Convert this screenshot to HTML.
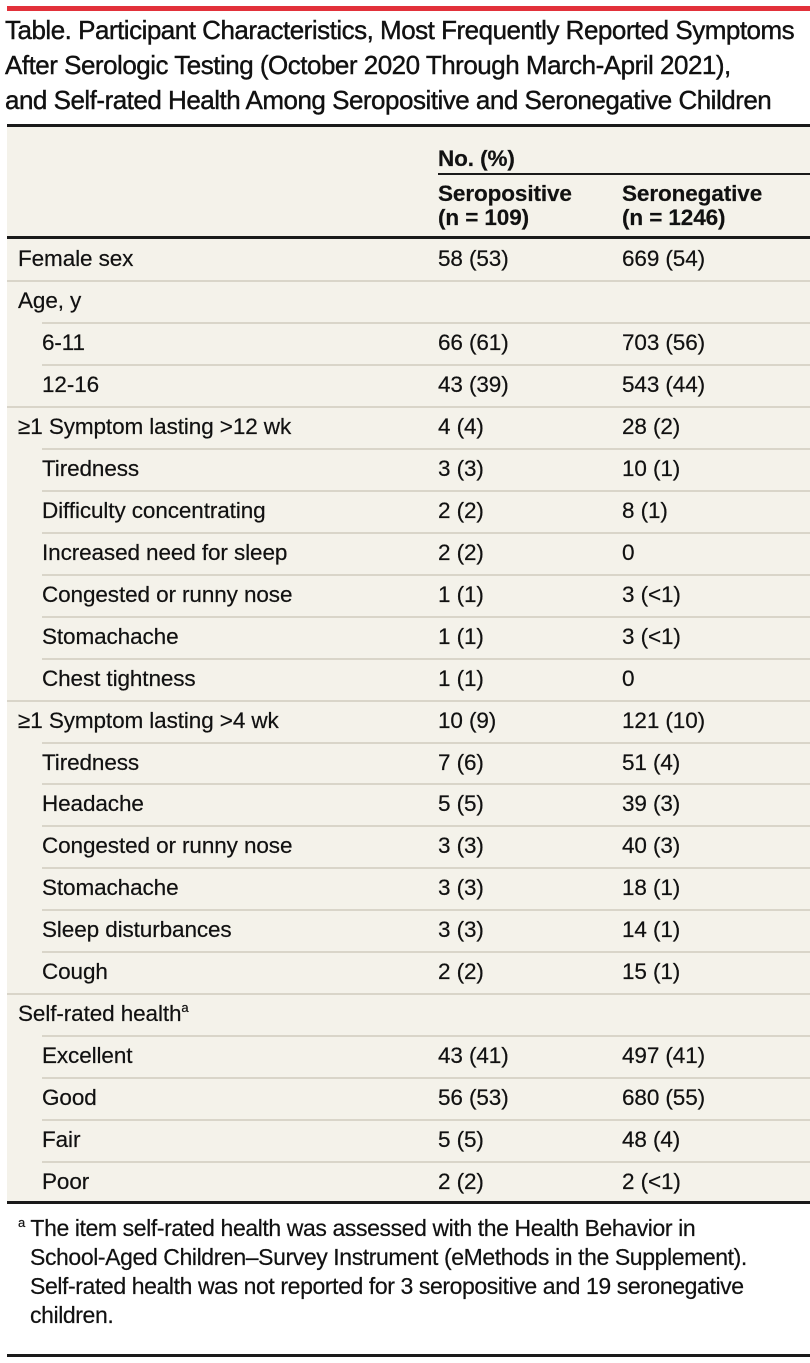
<!DOCTYPE html>
<html><head><meta charset="utf-8"><style>
body{margin:0;width:810px;height:1363px;background:#fff;font-family:"Liberation Sans",sans-serif;color:#111;position:relative;overflow:hidden}
.a{position:absolute;white-space:nowrap}
.t{font-size:26px;left:5px;letter-spacing:-0.5px;-webkit-text-stroke:0.4px #111}
.tb{position:absolute;left:7px;right:0;top:126px;height:1077px;background:#f4f2ea}
.r{position:absolute;font-size:22.5px;letter-spacing:-0.1px;line-height:22px;white-space:nowrap;-webkit-text-stroke:0.2px #111}
.l{position:absolute;height:2px;background:#d9d5c9;right:0}
.fn{font-size:23px;left:18px;letter-spacing:-0.4px;-webkit-text-stroke:0.2px #111}
.s{font-size:13px;position:relative;top:-9px}
</style></head><body>
<div class="a" style="left:7px;right:0;top:6px;height:5px;background:#e2313a"></div>
<div class="a t" style="top:15px">Table. Participant Characteristics, Most Frequently Reported Symptoms</div>
<div class="a t" style="top:50px">After Serologic Testing (October 2020 Through March-April 2021),</div>
<div class="a t" style="top:85px">and Self-rated Health Among Seropositive and Seronegative Children</div>
<div class="tb"></div>
<div class="a" style="left:7px;right:0;top:124px;height:3px;background:#1a1a1a"></div>
<div class="r" style="left:438px;top:148px;font-weight:bold">No. (%)</div>
<div class="a" style="left:438px;right:0;top:173px;height:2px;background:#1a1a1a"></div>
<div class="r" style="left:438px;top:183px;font-weight:bold">Seropositive</div>
<div class="r" style="left:438px;top:207px;font-weight:bold">(n = 109)</div>
<div class="r" style="left:622px;top:183px;font-weight:bold">Seronegative</div>
<div class="r" style="left:622px;top:207px;font-weight:bold">(n = 1246)</div>
<div class="a" style="left:7px;right:0;top:236px;height:3px;background:#1a1a1a"></div>
<div id="rows"></div>
<div class="a" style="left:7px;right:0;top:1201px;height:3px;background:#1a1a1a"></div>
<div class="a fn" style="top:1215px"><span class="s">a</span> The item self-rated health was assessed with the Health Behavior in</div>
<div class="a fn" style="top:1244px;left:30px">School-Aged Children–Survey Instrument (eMethods in the Supplement).</div>
<div class="a fn" style="top:1273px;left:30px">Self-rated health was not reported for 3 seropositive and 19 seronegative</div>
<div class="a fn" style="top:1302px;left:30px">children.</div>
<div class="a" style="left:7px;right:0;top:1354px;height:3px;background:#1a1a1a"></div>
<script>
var d=[["Female sex","58 (53)","669 (54)",0],["Age, y","","",0],["6-11","66 (61)","703 (56)",1],["12-16","43 (39)","543 (44)",1],
["≥1 Symptom lasting >12 wk","4 (4)","28 (2)",0],["Tiredness","3 (3)","10 (1)",1],["Difficulty concentrating","2 (2)","8 (1)",1],
["Increased need for sleep","2 (2)","0",1],["Congested or runny nose","1 (1)","3 (<1)",1],["Stomachache","1 (1)","3 (<1)",1],["Chest tightness","1 (1)","0",1],
["≥1 Symptom lasting >4 wk","10 (9)","121 (10)",0],["Tiredness","7 (6)","51 (4)",1],["Headache","5 (5)","39 (3)",1],["Congested or runny nose","3 (3)","40 (3)",1],
["Stomachache","3 (3)","18 (1)",1],["Sleep disturbances","3 (3)","14 (1)",1],["Cough","2 (2)","15 (1)",1],
["Self-rated health<span class='s'>a</span>","","",0],["Excellent","43 (41)","497 (41)",1],["Good","56 (53)","680 (55)",1],["Fair","5 (5)","48 (4)",1],["Poor","2 (2)","2 (<1)",1]];
var h="",H=41.96;
for(var i=0;i<d.length;i++){var y=239+i*H,c=y+H/2-12;
if(i>0)h+='<div class="l" style="top:'+(y-1)+'px;left:'+(d[i][3]?42:7)+'px"></div>';
h+='<div class="r" style="left:'+(d[i][3]?42:18)+'px;top:'+c+'px">'+d[i][0]+'</div>';
h+='<div class="r" style="left:438px;top:'+c+'px">'+d[i][1].replace("<","&lt;")+'</div>';
h+='<div class="r" style="left:622px;top:'+c+'px">'+d[i][2].replace("<","&lt;")+'</div>';}
document.getElementById("rows").innerHTML=h;
</script>
</body></html>
